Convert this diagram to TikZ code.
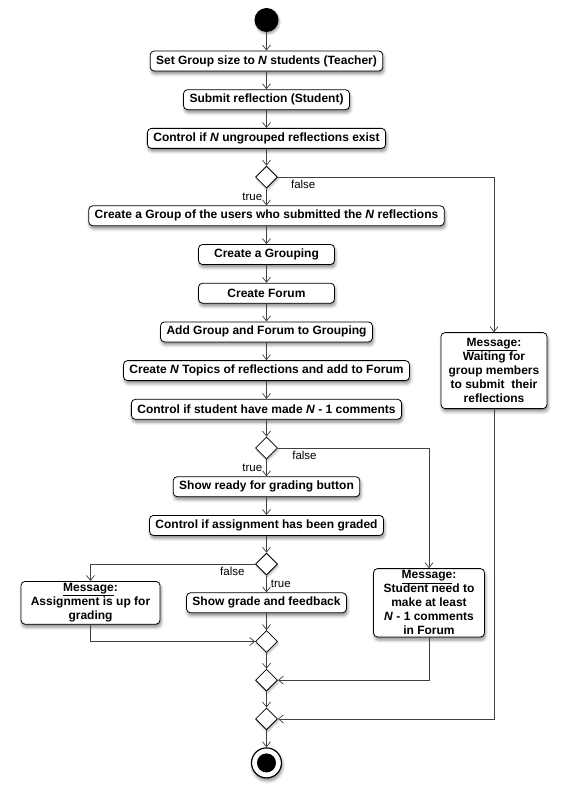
\documentclass[tikz,border=0pt]{standalone}
\usepackage{fontspec}
\setmainfont{Liberation Sans}
\usepackage{tikz}
\usetikzlibrary{arrows.meta,positioning,shapes.geometric,shadows.blur}
\tikzstyle{activity}=[rectangle,rounded corners=4pt,draw=black,line width=0.8pt,
fill=white,minimum height=20pt,inner xsep=6pt,inner ysep=2pt,
font=\fontsize{12}{14}\selectfont\bfseries,
blur shadow={shadow xshift=1pt,shadow yshift=-3pt,shadow blur radius=3pt,shadow opacity=45}]
\tikzstyle{message}=[activity,align=center]
\tikzstyle{decision}=[diamond,draw=black,line width=0.8pt,fill=white,
minimum size=22pt,inner sep=0pt,
blur shadow={shadow xshift=1pt,shadow yshift=-2pt,shadow blur radius=2pt,shadow opacity=30}]
\tikzstyle{initial}=[circle,fill=black,minimum size=24pt,inner sep=0pt,
blur shadow={shadow xshift=1pt,shadow yshift=-2pt,shadow blur radius=2pt,shadow opacity=35}]
\tikzstyle{final}=[circle,draw=black,line width=1.2pt,fill=white,minimum size=30pt,inner sep=0pt,
blur shadow={shadow xshift=1pt,shadow yshift=-3pt,shadow blur radius=3pt,shadow opacity=45}]
\tikzstyle{guard}=[font=\fontsize{11.5}{13}\selectfont,inner sep=2pt]
\tikzstyle{flow}=[->,draw=black!75,line width=0.7pt]

\begin{document}
\begin{tikzpicture}[x=1pt,y=1pt,node distance=38.7pt,
  >={Straight Barb[length=5pt,width=8pt]}]
            \useasboundingbox (0,0) rectangle (567,-802);

            % GROUPING PART

            \node[initial] at (266.5,-20) (s0) {};
            \node[activity, below of=s0, node distance=41pt] (a1) {Set Group size to \textit{N} students (Teacher)};
            \node[activity, below of=a1] (a2) {Submit reflection (Student)};
            \node[activity, below of=a2] (a3) {Control if \textit{N} ungrouped reflections exist};
            \node[decision, below of=a3] (d1) {};
            \node[activity, below of=d1] (a4) {Create a Group of the users who submitted the \textit{N} reflections};
            \node[activity, below of=a4, minimum width=136pt] (a5) {Create a Grouping};
            \node[activity, below of=a5, minimum width=136pt] (a6) {Create Forum};
            \node[activity, below of=a6] (a7) {Add Group and Forum to Grouping};
            \node[activity, below of=a7] (a8) {Create \textit{N} Topics of reflections and add to Forum};
            \node[message, node distance=227.5pt, right of=a8, minimum width=106pt, minimum height=76pt]
                (m1) {\underline{Message}:\\Waiting for\\group members\\to submit~~their\\reflections};

            \path[flow] (s0) edge node {} (a1);
            \path[flow] (a1) edge node {} (a2);
            \path[flow] (a2) edge node {} (a3);
            \path[flow] (a3) edge node {} (d1);
            \path[flow] (d1) edge node[guard,left,xshift=-2pt] {true} (a4);
            \path[flow] (a4) edge node {} (a5);
            \path[flow] (a5) edge node {} (a6);
            \path[flow] (a6) edge node {} (a7);
            \path[flow] (a7) edge node {} (a8);
            \draw[flow] (d1) -| node[guard,pos=0.025,below right,yshift=-1pt] {false} (m1);

            % COMMENTS PART

            \node[activity, below of=a8] (a9) {Control if student have made \textit{N} - 1 comments};
            \node[decision, below of=a9] (d2) {};
            \node[activity, below of=d2] (a10) {Show ready for grading button};
            \node[activity, below of=a10] (a11) {Control if assignment has been graded};
            \node[decision, below of=a11] (d3) {};
            \node[activity, below of=d3] (a12) {Show grade and feedback};
            \node[message, node distance=162.5pt, right of=a12, minimum width=111pt]
                (m2) {\underline{Message}:\\Student need to\\make at least\\\textit{N} - 1 comments\\in Forum};
            \node[message, node distance=176pt, left of=a12, minimum width=139pt]
                (m3) {\underline{Message}:\\Assignment is up for\\grading};

            \path[flow] (a8) edge node {} (a9);
            \path[flow] (a9) edge node {} (d2);
            \path[flow] (d2) edge node[guard,left,xshift=-2pt] {true} (a10);
            \path[flow] (a10) edge node {} (a11);
            \path[flow] (a11) edge node {} (d3);
            \path[flow] (d3) edge node[guard,right,xshift=2pt] {true} (a12);
            \draw[flow] (d2) -| node[guard,pos=0.04,below right,yshift=-1pt] {false} (m2);
            \draw[flow] (d3) -| node[guard,pos=0.025,below left,yshift=-1pt] {false} (m3);

            % MERGE PART

            \node[decision, below of=a12] (j1) {};
            \node[decision, below of=j1] (j2) {};
            \node[decision, below of=j2] (j3) {};
            \node[final, below of=j3, node distance=44pt] (e0) {};
            \node[circle,fill=black,minimum size=19pt,inner sep=0pt] at (e0) (e1) {};

            \path[flow] (a12) edge node {} (j1);
            \path[flow] (j1) edge node {} (j2);
            \path[flow] (j2) edge node {} (j3);
            \path[flow] (j3) edge node {} (e0);
            \draw[flow] (m3) |- (j1);
            \draw[flow] (m2) |- (j2);
            \draw[flow] (m1) |- (j3);

        \end{tikzpicture}
\end{document}
